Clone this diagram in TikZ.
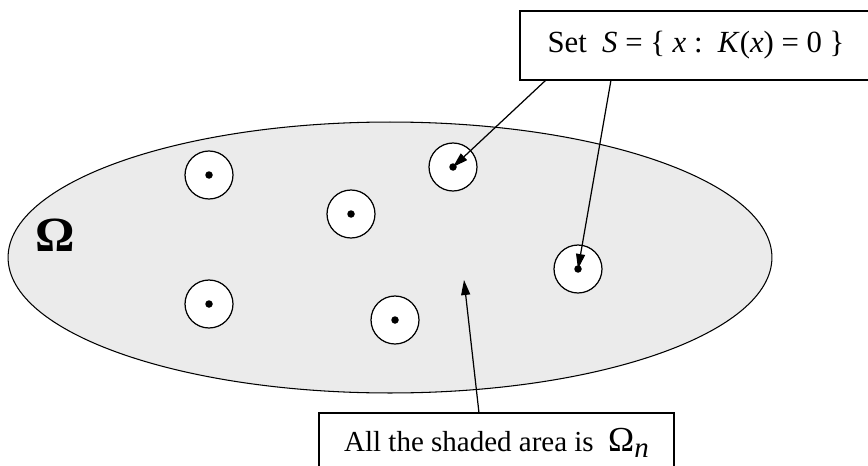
\documentclass[tikz,border=0pt]{standalone}
\usepackage{fontspec}
\setmainfont{Liberation Serif}
\usetikzlibrary{positioning,arrows.meta}

\begin{document}
\begin{tikzpicture}[
    x=0.02cm, y=-0.02cm,
    font=\fontsize{16.5}{20}\selectfont,
    region/.style={draw, line width=0.6pt, fill=black!8},
    hole/.style={draw, circle, line width=0.7pt, fill=white, minimum size=0.96cm, inner sep=0pt},
    pt/.style={circle, fill=black, minimum size=0.15cm, inner sep=0pt},
    label/.style={draw, line width=0.7pt, fill=white, inner sep=0pt},
    pointer/.style={-{Triangle[length=0.3cm, width=0.18cm]}, line width=0.7pt}
]
\useasboundingbox (0,0) rectangle (868,466);
\clip (0,0) rectangle (868,466);

\draw[region] (390,257.5) ellipse [x radius=7.64cm, y radius=2.71cm];
\node[font=\fontsize{28}{32}\selectfont\bfseries] (omega) at (55,235) {Ω};

\foreach \n/\x/\y in {1/209/175, 2/209/304, 3/351/214, 4/453/167, 5/578/269, 6/395/320} {
  \node[hole] (c\n) at (\x,\y) {};
  \node[pt]   (d\n) at (c\n.center) {};
}

\node[label, minimum width=7.04cm, minimum height=1.38cm, font=\fontsize{17.5}{21}\selectfont] (setbox) at (696,45.5)
    {Set\ \ \textit{S} = \{\ \textit{x}\ :\ \ \textit{K}(\textit{x}) = 0\ \}};
\node[label, minimum width=7.1cm, minimum height=1.2cm] (areabox) at (496.5,443)
    {All the shaded area is\ \ {\fontsize{20}{24}\selectfont Ω}\raisebox{-0.45ex}{\textit{n}}};

\coordinate (tailA) at (546,80);
\coordinate (tailB) at (611,80);
\coordinate (tailC) at (479,413);
\coordinate (shade) at (464,280);

\draw[pointer] (tailA) -- (d4.center);
\draw[pointer] (tailB) -- (d5.center);
\draw[pointer] (tailC) -- (shade);

\end{tikzpicture}
\end{document}
